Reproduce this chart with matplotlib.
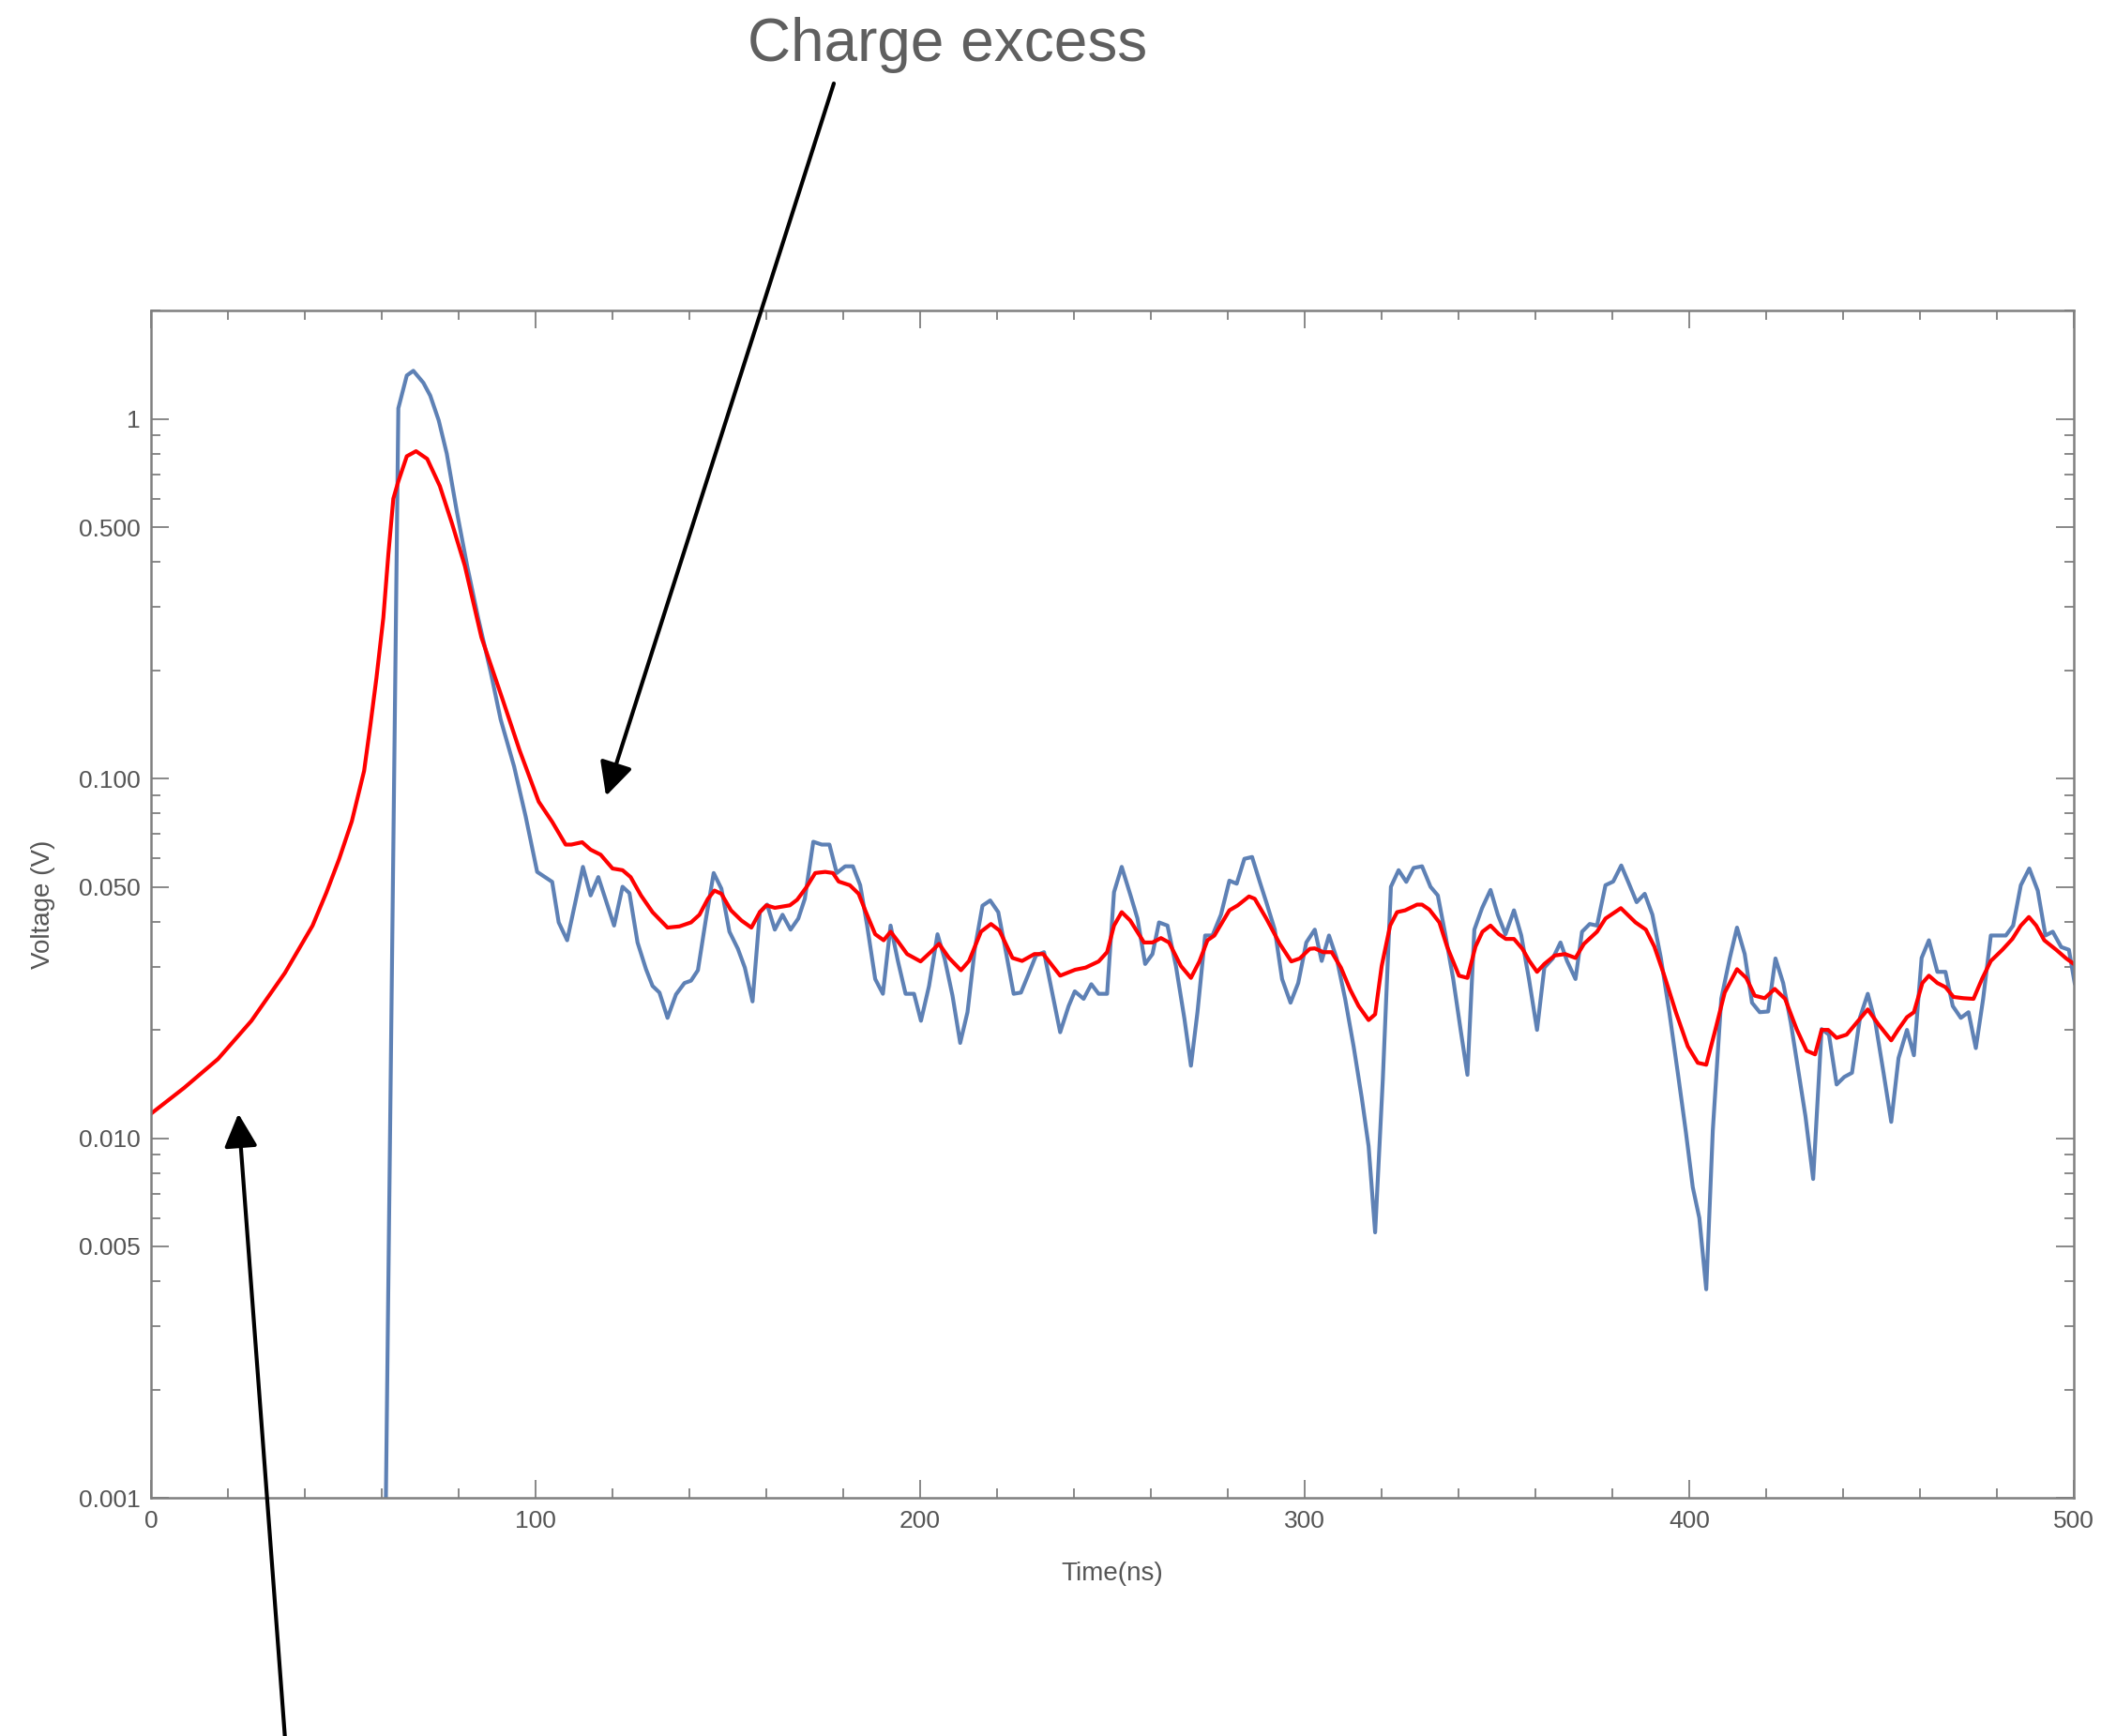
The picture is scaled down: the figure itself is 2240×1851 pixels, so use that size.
# -*- coding: utf-8 -*-
"""
Scope trace on a log scale: raw signal (blue) and its smoothed version (red),
with two arrows pointing at the tails of the smoothed curve.
"""

# %% Import packages.
import numpy as np
import matplotlib
matplotlib.use('Agg')
import matplotlib.pyplot as plt
from matplotlib.ticker import FixedLocator, FixedFormatter, LogLocator, MultipleLocator, NullFormatter

plt.rcParams['font.family'] = ['Liberation Sans', 'DejaVu Sans']

# %% Data.
# Raw trace, time in ns and voltage in V. The first point lies below the axis.
blue_t = [60.0, 64.3, 66.5, 68.2, 70.8, 72.6, 74.8, 76.9, 79.5, 82.2, 85.1, 88.3, 90.9, 94.4,
          97.4, 100.4, 104.3, 106.0, 108.2, 112.3, 114.3, 116.3, 120.4, 122.6, 124.4, 126.5,
          128.7, 130.4, 132.2, 134.3, 136.5, 138.7, 140.4, 142.2, 144.3, 146.3, 148.3, 150.4,
          152.6, 154.4, 156.4, 158.3, 160.2, 162.2, 164.2, 166.3, 168.3, 170.0, 172.2, 174.4,
          176.4, 178.3, 180.5, 182.5, 184.4, 186.2, 188.3, 190.3, 192.3, 194.2, 196.2, 198.4,
          200.2, 202.3, 204.5, 206.4, 208.4, 210.4, 212.3, 214.2, 216.2, 218.2, 220.3, 222.3,
          224.3, 226.2, 228.0, 230.1, 232.2, 236.4, 238.6, 240.2, 242.5, 244.5, 246.4, 248.6,
          250.4, 252.4, 254.7, 256.5, 258.5, 260.4, 262.1, 264.3, 266.5, 268.7, 270.4, 272.1,
          274.1, 276.0, 278.2, 280.4, 282.3, 284.3, 286.3, 288.3, 290.0, 292.2, 294.1, 296.3,
          298.3, 300.4, 302.6, 304.4, 306.3, 308.3, 310.5, 312.7, 314.8, 316.6, 318.3, 320.3,
          322.4, 324.4, 326.4, 328.3, 330.5, 332.7, 334.6, 336.6, 338.6, 340.5, 342.3, 344.1,
          346.1, 348.3, 350.2, 352.2, 354.4, 356.3, 358.3, 360.4, 362.3, 364.5, 366.5, 368.2,
          370.4, 372.1, 374.1, 376.0, 378.2, 380.2, 382.3, 384.3, 386.3, 388.4, 390.4, 392.6,
          394.8, 397.0, 399.1, 400.9, 402.6, 404.4, 406.1, 408.3, 410.5, 412.4, 414.4, 416.3,
          418.3, 420.5, 422.4, 424.4, 426.4, 428.3, 430.2, 432.2, 434.4, 436.3, 438.3, 440.3,
          442.3, 444.4, 446.4, 448.4, 450.5, 452.5, 454.4, 456.6, 458.4, 460.4, 462.3, 464.5,
          466.6, 468.5, 470.6, 472.6, 474.5, 476.4, 478.4, 480.4, 482.3, 484.2, 486.2, 488.4,
          490.6, 492.6, 494.5, 496.7, 498.7, 500.2]
blue_v = [1e-4, 1.07, 1.32, 1.36, 1.26, 1.16, 0.99, 0.80, 0.553, 0.39, 0.278, 0.198, 0.146, 0.108,
          0.0785, 0.055, 0.0516, 0.0398, 0.0355, 0.0568, 0.0473, 0.0532, 0.039, 0.050, 0.048, 0.035,
          0.0295, 0.0265, 0.0254, 0.0216, 0.0251, 0.0270, 0.0274, 0.0293, 0.0408, 0.0546, 0.0494, 0.0375,
          0.0336, 0.0298, 0.024, 0.0425, 0.0446, 0.038, 0.0418, 0.038, 0.0408, 0.0463, 0.0667, 0.0655,
          0.0655, 0.0546, 0.057, 0.057, 0.0505, 0.039, 0.0277, 0.0252, 0.039, 0.0311, 0.0252, 0.0252,
          0.0212, 0.0265, 0.0369, 0.0314, 0.0249, 0.0184, 0.0224, 0.0336, 0.0443, 0.0458, 0.0425, 0.0329,
          0.0252, 0.0254, 0.0283, 0.0322, 0.0329, 0.0197, 0.0233, 0.0256, 0.0244, 0.0268, 0.0252, 0.0252,
          0.0483, 0.0568, 0.0473, 0.0408, 0.0305, 0.0325, 0.0398, 0.039, 0.0301, 0.0215, 0.0159, 0.0224,
          0.0366, 0.0366, 0.0418, 0.052, 0.051, 0.0598, 0.0605, 0.0516, 0.0453, 0.038, 0.0277, 0.0238,
          0.0270, 0.035, 0.038, 0.0311, 0.0366, 0.0316, 0.0244, 0.018, 0.013, 0.0095, 0.00547, 0.0146,
          0.050, 0.0556, 0.0516, 0.0564, 0.057, 0.050, 0.0473, 0.0366, 0.0277, 0.0201, 0.015, 0.038,
          0.0436, 0.049, 0.0418, 0.0369, 0.043, 0.0366, 0.0277, 0.020, 0.0298, 0.0316, 0.035, 0.0311,
          0.0277, 0.0375, 0.0394, 0.039, 0.0505, 0.0517, 0.0573, 0.051, 0.0453, 0.0478, 0.0418, 0.0317,
          0.0224, 0.0152, 0.0104, 0.0073, 0.006, 0.0038, 0.0105, 0.0244, 0.0316, 0.0385, 0.0325, 0.0238,
          0.0224, 0.0225, 0.0316, 0.027, 0.0209, 0.0155, 0.0115, 0.0077, 0.0201, 0.0194, 0.0141, 0.0148,
          0.0152, 0.0217, 0.0252, 0.0209, 0.0152, 0.0111, 0.0167, 0.020, 0.017, 0.0317, 0.0355, 0.029,
          0.029, 0.0233, 0.0216, 0.0224, 0.0178, 0.0244, 0.0366, 0.0366, 0.0366, 0.039, 0.0505, 0.0562,
          0.0488, 0.0366, 0.0375, 0.034, 0.0334, 0.027]

# Smoothed trace.
red_t = [0.0, 8.6, 17.4, 26.1, 34.8, 42.0, 45.6, 48.9, 52.2, 55.4, 57.0, 58.6, 60.4, 61.7, 63.0, 64.3,
         66.5, 68.9, 71.8, 75.1, 78.3, 81.6, 85.9, 91.4, 95.8, 100.8, 104.3, 107.8, 109.3, 112.1, 114.3,
         116.9, 120.0, 122.6, 124.7, 127.4, 130.4, 134.3, 137.4, 140.4, 142.6, 144.8, 146.5, 148.3,
         150.8, 153.5, 156.1, 158.3, 160.0, 162.2, 166.1, 168.0, 170.5, 172.7, 175.3, 177.3, 178.8,
         181.7, 184.0, 185.7, 188.3, 190.5, 192.3, 194.0, 196.6, 200.1, 202.7, 204.9, 207.5, 210.6,
         212.7, 215.8, 218.4, 220.6, 224.0, 226.5, 229.7, 232.0, 236.4, 240.3, 243.0, 246.4, 248.6,
         250.4, 252.4, 254.6, 258.2, 260.4, 262.6, 264.7, 267.8, 270.4, 272.6, 274.7, 276.5, 280.4,
         282.6, 285.5, 287.0, 290.0, 293.5, 296.5, 298.7, 301.3, 302.6, 304.8, 307.0, 309.4, 311.8,
         314.0, 316.6, 318.3, 320.0, 322.2, 324.0, 326.1, 329.2, 330.5, 332.4, 335.0, 337.0, 340.1,
         342.3, 344.4, 346.2, 348.3, 350.5, 352.3, 354.4, 356.6, 358.4, 360.4, 362.3, 365.0, 367.7,
         370.4, 372.6, 376.0, 378.2, 382.2, 386.0, 388.7, 390.9, 393.5, 396.5, 399.6, 402.2, 404.4,
         406.6, 409.2, 412.4, 414.8, 417.0, 419.6, 422.2, 424.9, 427.9, 430.5, 432.7, 434.4, 436.1,
         438.3, 440.9, 443.6, 446.4, 449.2, 452.5, 454.4, 456.6, 458.4, 460.6, 462.3, 464.5, 466.6,
         468.7, 471.3, 473.9, 476.1, 478.4, 481.4, 484.0, 486.2, 488.3, 490.2, 492.3, 495.4, 498.0,
         500.0]
red_v = [0.0117, 0.0138, 0.0166, 0.0212, 0.0288, 0.039, 0.0482, 0.0597, 0.076, 0.105, 0.14, 0.19, 0.28,
         0.42, 0.60, 0.67, 0.787, 0.813, 0.774, 0.65, 0.51, 0.39, 0.247, 0.166, 0.12, 0.0862, 0.0758, 0.0655,
         0.0655, 0.0665, 0.0634, 0.0614, 0.0562, 0.0556, 0.0532, 0.0473, 0.0425, 0.0385, 0.0388, 0.0398,
         0.0418, 0.0463, 0.0488, 0.0478, 0.043, 0.0403, 0.0385, 0.0425, 0.0444, 0.0437, 0.0444, 0.046,
         0.050, 0.0546, 0.055, 0.0546, 0.0517, 0.0505, 0.0478, 0.043, 0.0369, 0.0355, 0.0375, 0.0355,
         0.0325, 0.031, 0.0329, 0.0347, 0.0317, 0.0293, 0.0311, 0.0375, 0.0394, 0.0378, 0.0317, 0.0311,
         0.0325, 0.0325, 0.0283, 0.0294, 0.0298, 0.031, 0.0329, 0.039, 0.0425, 0.0403, 0.035, 0.035,
         0.036, 0.035, 0.0301, 0.0279, 0.031, 0.0355, 0.0366, 0.043, 0.0444, 0.047, 0.0463, 0.0408,
         0.0347, 0.031, 0.0316, 0.0336, 0.0337, 0.0329, 0.0329, 0.0298, 0.0259, 0.0233, 0.0213, 0.0221,
         0.0301, 0.039, 0.0425, 0.043, 0.0446, 0.0446, 0.0432, 0.0398, 0.0341, 0.0283, 0.0279, 0.0341,
         0.0375, 0.039, 0.0369, 0.0358, 0.0358, 0.0336, 0.0311, 0.029, 0.0305, 0.0322, 0.0325, 0.0317,
         0.0347, 0.0375, 0.0408, 0.0436, 0.0398, 0.038, 0.0341, 0.0283, 0.0224, 0.018, 0.0162, 0.016,
         0.0197, 0.0254, 0.0295, 0.0279, 0.0249, 0.0245, 0.026, 0.0244, 0.0201, 0.0175, 0.0171, 0.020,
         0.020, 0.019, 0.0194, 0.021, 0.0228, 0.0207, 0.0187, 0.0201, 0.0217, 0.0224, 0.027, 0.0283,
         0.027, 0.0263, 0.0247, 0.0245, 0.0244, 0.0277, 0.0311, 0.0334, 0.0358, 0.039, 0.0412, 0.039,
         0.0355, 0.0334, 0.0316, 0.0305]

# Axis ticks.
ytick_vals = [0.001, 0.005, 0.01, 0.05, 0.1, 0.5, 1]
ytick_labels = ['0.001', '0.005', '0.010', '0.050', '0.100', '0.500', '1']
xtick_vals = [0, 100, 200, 300, 400, 500]

# Arrow tips (data coords) for the two annotations.
arrow_tip_excess = (118.3, 0.0894)
arrow_tip_rise = (22.7, 0.0117)

# %% Plot.
grey = '#7f7f7f'
text_grey = '#555555'

fig = plt.figure(figsize=(22.4, 18.51), dpi=100)
ax = fig.add_axes([0.0719, 0.1372, 0.9152, 0.6839])

ax.plot(blue_t, blue_v, color='#5E81B5', linewidth=3)
ax.plot(red_t, red_v, color='#FF0000', linewidth=3)

ax.set_yscale('log')
ax.set_xlim(0, 500)
ax.set_ylim(0.001, 2.0)

ax.yaxis.set_major_locator(FixedLocator(ytick_vals))
ax.yaxis.set_major_formatter(FixedFormatter(ytick_labels))
ax.yaxis.set_minor_locator(LogLocator(base=10, subs=[2, 3, 4, 6, 7, 8, 9], numticks=20))
ax.yaxis.set_minor_formatter(NullFormatter())
ax.xaxis.set_major_locator(FixedLocator(xtick_vals))
ax.xaxis.set_minor_locator(MultipleLocator(20))

ax.tick_params(which='both', direction='in', top=True, right=True, color=grey,
               labelcolor=text_grey, labelsize=19, width=1.3)
ax.tick_params(which='major', length=14)
ax.tick_params(which='minor', length=7)
ax.tick_params(axis='y', pad=8)
ax.tick_params(axis='x', pad=9)

for sp in ax.spines.values():
    sp.set_color(grey)
    sp.set_linewidth(1.8)

ax.set_xlabel('Time(ns)', fontsize=20, color=text_grey, labelpad=23)
ax.set_ylabel('Voltage (V)', fontsize=20, color=text_grey, labelpad=18)

# Annotation text and arrows.
fig.text(1010 / 2240, 1 - 65 / 1851, 'Charge excess', ha='center', va='baseline',
         fontsize=46, color='#5f5f5f')

arrow_props = dict(arrowstyle='-|>,head_length=0.6,head_width=0.3', mutation_scale=36,
                   color='black', lw=3, shrinkA=0, shrinkB=0)
ax.annotate('', xy=arrow_tip_excess, xycoords='data', xytext=(889, 1851 - 89),
            textcoords='figure pixels', arrowprops=arrow_props, annotation_clip=False)
ax.annotate('', xy=arrow_tip_rise, xycoords='data', xytext=(304, -4),
            textcoords='figure pixels', arrowprops=arrow_props, annotation_clip=False)

plt.savefig('out.png', dpi=100)
plt.close(fig)
